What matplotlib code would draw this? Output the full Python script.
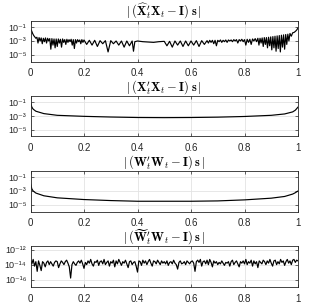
import numpy as np
import matplotlib
matplotlib.use("Agg")
import matplotlib.pyplot as plt

plt.rcParams["font.family"] = ["Liberation Sans", "DejaVu Sans"]
plt.rcParams["mathtext.fontset"] = "cm"

# panel 1: |(X^hat_t' X_t - I) s|, log10 values
x1 = [0.000, 0.004, 0.008, 0.012, 0.016, 0.020, 0.024, 0.028, 0.032, 0.036,
      0.040, 0.044, 0.048, 0.052, 0.056, 0.060, 0.064, 0.068, 0.072, 0.076,
      0.080, 0.084, 0.088, 0.092, 0.096, 0.100, 0.104, 0.108, 0.112, 0.116,
      0.120, 0.124, 0.128, 0.132, 0.136, 0.140, 0.144, 0.148, 0.152, 0.156,
      0.160, 0.164, 0.168, 0.172, 0.176, 0.180, 0.184, 0.188, 0.192, 0.196,
      0.200, 0.210, 0.220, 0.230, 0.240, 0.250, 0.260, 0.270, 0.280, 0.290,
      0.300, 0.310, 0.320, 0.330, 0.340, 0.350, 0.360, 0.370, 0.380, 0.385,
      0.390, 0.400, 0.420, 0.440, 0.460, 0.480, 0.500, 0.510, 0.520, 0.530,
      0.540, 0.550, 0.560, 0.570, 0.580, 0.590, 0.600, 0.610, 0.620, 0.630,
      0.640, 0.650, 0.660, 0.665, 0.670, 0.675, 0.680, 0.685, 0.690, 0.695,
      0.700, 0.705, 0.710, 0.715, 0.720, 0.725, 0.730, 0.735, 0.740, 0.745,
      0.750, 0.755, 0.760, 0.765, 0.770, 0.775, 0.780, 0.785, 0.790, 0.795,
      0.800, 0.805, 0.810, 0.815, 0.820, 0.825, 0.830, 0.835, 0.840, 0.845,
      0.850, 0.854, 0.858, 0.862, 0.866, 0.870, 0.874, 0.878, 0.882, 0.886,
      0.890, 0.894, 0.898, 0.902, 0.906, 0.910, 0.914, 0.918, 0.922, 0.926,
      0.930, 0.934, 0.938, 0.942, 0.946, 0.950, 0.954, 0.958, 0.962, 0.966,
      0.970, 0.975, 0.980, 0.985, 0.990, 0.995, 1.000]
e1 = [-1.25, -1.5, -1.9, -2.2, -2.4, -2.6, -2.45, -3.3, -2.5, -3.0,
      -2.55, -3.4, -2.6, -3.1, -2.55, -3.3, -2.6, -3.0, -2.65, -4.2,
      -2.65, -3.6, -2.7, -4.0, -2.7, -3.8, -2.7, -3.3, -2.75, -3.9,
      -2.7, -3.2, -2.8, -3.5, -2.75, -3.2, -2.8, -3.1, -2.75, -3.6,
      -2.8, -4.1, -2.8, -3.3, -2.8, -3.1, -2.85, -3.4, -2.8, -3.2,
      -2.85, -3.5, -2.9, -3.6, -2.9, -3.8, -2.95, -3.4, -2.95, -4.6,
      -2.95, -3.4, -3.0, -3.6, -3.0, -3.9, -3.0, -3.7, -3.0, -4.5,
      -3.1, -3.0, -3.1, -3.15, -3.2, -3.1, -3.05, -3.7, -3.05, -3.9,
      -3.0, -3.6, -3.0, -3.8, -3.0, -3.7, -3.0, -3.6, -2.95, -3.8,
      -2.95, -3.5, -2.95, -3.3, -2.9, -3.2, -2.9, -3.4, -2.9, -3.7,
      -2.9, -3.1, -2.85, -3.2, -2.9, -3.1, -2.85, -3.2, -2.85, -3.0,
      -2.85, -3.1, -2.8, -3.0, -2.8, -3.3, -2.8, -3.0, -2.75, -3.1,
      -2.8, -3.6, -2.75, -3.2, -2.75, -3.5, -2.7, -3.0, -2.65, -3.1,
      -2.6, -3.6, -2.6, -3.3, -2.55, -3.8, -2.5, -3.5, -2.5, -4.0,
      -2.45, -3.7, -2.4, -4.3, -2.35, -4.0, -2.3, -4.5, -2.25, -4.1,
      -2.2, -4.6, -2.15, -3.9, -2.1, -4.2, -2.05, -3.5, -2.0, -3.0,
      -1.9, -2.3, -1.8, -1.75, -1.6, -1.4, -1.1]

# panels 2 and 3: smooth curves
x2 = [0.0, 0.005, 0.01, 0.02, 0.05, 0.1, 0.2, 0.3, 0.4, 0.5,
      0.6, 0.7, 0.8, 0.9, 0.95, 0.98, 0.99, 1.0]
e2 = [-1.0, -1.7, -2.0, -2.3, -2.65, -2.9, -3.05, -3.15, -3.22, -3.24,
      -3.22, -3.17, -3.07, -2.9, -2.7, -2.4, -2.15, -1.7]
e3 = [-1.9, -2.7, -3.0, -3.3, -3.7, -4.0, -4.25, -4.4, -4.5, -4.5,
      -4.5, -4.45, -4.3, -4.05, -3.8, -3.45, -3.25, -3.0]

# panel 4: round-off level noise
e4 = [-13.4, -13.9, -13.3, -14.2, -13.6, -14.9, -13.5, -14.1, -14.8, -13.6,
      -13.8, -14.3, -13.7, -13.5, -14.0, -13.6, -13.9, -14.2, -13.7, -13.5,
      -13.6, -14.4, -13.9, -13.5, -13.7, -14.0, -13.6, -13.4, -13.8, -14.3,
      -15.8, -14.0, -13.6, -13.9, -14.1, -13.7, -13.5, -13.8, -13.4, -13.9,
      -14.5, -13.7, -14.0, -13.5, -13.8, -13.3, -13.9, -14.2, -13.6, -13.7,
      -13.4, -14.1, -13.6, -13.5, -13.9, -13.3, -14.0, -13.7, -13.5, -14.2,
      -13.6, -13.8, -13.4, -14.3, -13.5, -13.9, -13.3, -13.7, -14.1, -13.6,
      -13.8, -13.4, -13.9, -14.4, -13.6, -13.5, -14.0, -13.7, -13.6, -14.2,
      -15.0, -13.5, -13.6, -14.1, -13.4, -13.8, -13.5, -14.0, -13.6, -13.3,
      -13.8, -14.2, -13.5, -13.6, -13.9, -13.4, -13.7, -14.0, -13.5, -13.8,
      -13.6, -13.9, -13.5, -14.1, -13.7, -13.6, -13.9, -13.4, -13.8, -14.0,
      -14.6, -13.7, -13.5, -13.9, -13.8, -13.6, -14.0, -13.5, -13.7, -13.9,
      -13.6, -13.5, -13.8, -14.9, -13.6, -13.4, -13.7, -13.3, -14.2, -13.6,
      -13.5, -13.9, -13.4, -14.0, -13.3, -13.7, -14.3, -13.5, -13.8, -13.6,
      -14.0, -13.7, -13.9, -13.5, -13.8, -14.1, -13.7, -13.8, -13.6, -14.2,
      -13.6, -13.4, -14.0, -13.7, -13.5, -13.9, -14.3, -13.6, -13.8, -13.5,
      -13.9, -13.3, -14.0, -13.6, -13.8, -13.4, -14.2, -13.5, -13.9, -13.6,
      -14.4, -13.5, -13.7, -13.9, -13.4, -13.6, -14.0, -13.5, -13.8, -13.3,
      -13.8, -14.2, -13.5, -13.4, -14.0, -13.6, -13.9, -13.3, -13.7, -13.5,
      -14.1, -13.6, -13.3, -13.8, -13.5, -14.0, -13.4, -13.3, -13.7, -13.4,
      -13.5]
x4 = np.linspace(0, 1, len(e4))

titles = [r"$|\,(\widehat{\mathbf{X}}_t'\mathbf{X}_t - \mathbf{I})\;\mathbf{s}\,|$",
          r"$|\,(\mathbf{X}_t'\mathbf{X}_t - \mathbf{I})\;\mathbf{s}\,|$",
          r"$|\,(\mathbf{W}_t'\mathbf{W}_t - \mathbf{I})\;\mathbf{s}\,|$",
          r"$|\,(\widetilde{\mathbf{W}}_t'\mathbf{W}_t - \mathbf{I})\;\mathbf{s}\,|$"]
xs = [x1, x2, x2, x4]
es = [e1, e2, e3, e4]
ylims = [(1e-6, 1e0), (1e-6, 1e0), (1e-6, 1e0), (1e-17, 10 ** -11.5)]
yticks = [[1e-5, 1e-3, 1e-1]] * 3 + [[1e-16, 1e-14, 1e-12]]
ytl = [["10\u207b\u2075", "10\u207b\u00b3", "10\u207b\u00b9"]] * 3 + \
      [["10\u207b\u00b9\u2076", "10\u207b\u00b9\u2074", "10\u207b\u00b9\u00b2"]]

W, H = 329, 308
fig = plt.figure(figsize=(W / 100, H / 100), dpi=100)
tops = [20.5, 95.5, 170.5, 246]
ax_h = 41
left, right = 30.5, 298

for i in range(4):
    ax = fig.add_axes([left / W, 1 - (tops[i] + ax_h) / H, (right - left) / W, ax_h / H])
    ax.semilogy(xs[i], 10.0 ** np.array(es[i]), color="black", lw=0.85)
    ax.set_xlim(0, 1)
    ax.set_ylim(*ylims[i])
    ax.set_xticks([0, 0.2, 0.4, 0.6, 0.8, 1])
    ax.set_xticklabels(["0", "0.2", "0.4", "0.6", "0.8", "1"])
    ax.set_yticks(yticks[i])
    ax.set_yticklabels(ytl[i])
    ax.yaxis.set_minor_locator(matplotlib.ticker.NullLocator())
    ax.grid(True, color="#e3e3e3", lw=0.6)
    ax.set_axisbelow(True)
    ax.tick_params(direction="in", length=2.5, width=0.5, labelsize=7,
                   colors="#262626", pad=3, top=True, right=True)
    ax.tick_params(axis="x", pad=5)
    ax.tick_params(axis="y", labelsize=6.5)
    for s in ax.spines.values():
        s.set_color("#262626")
        s.set_linewidth(0.6)
    ax.set_title(titles[i], fontsize=9, pad=3.5)

fig.savefig("out.png", dpi=100)
